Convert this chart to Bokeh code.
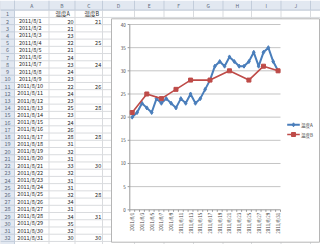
from bokeh.plotting import figure
from bokeh.models import Range1d
from bokeh.core.properties import value
from bokeh.embed import file_html
from bokeh.resources import INLINE

# ---------------- data ----------------
dates = ["2011/8/1", "2011/8/2", "2011/8/3", "2011/8/4", "2011/8/5", "2011/8/6",
         "2011/8/7", "2011/8/8", "2011/8/9", "2011/8/10", "2011/8/11", "2011/8/12",
         "2011/8/13", "2011/8/14", "2011/8/15", "2011/8/16", "2011/8/17", "2011/8/18",
         "2011/8/19", "2011/8/20", "2011/8/21", "2011/8/22", "2011/8/23", "2011/8/24",
         "2011/8/25", "2011/8/26", "2011/8/27", "2011/8/28", "2011/8/29", "2011/8/30",
         "2011/8/31"]
temp_a = [20, 21, 23, 22, 21, 24, 23, 24, 23, 22, 24, 23, 25, 23, 24, 26,
          28, 31, 32, 31, 33, 32, 31, 31, 32, 34, 31, 34, 35, 32, 30]
temp_b = [21, None, None, 25, None, None, 24, None, None, 26, None, None, 28, None, None, None,
          28, None, None, None, 30, None, None, None, 28, None, None, 31, None, None, 30]
series_names = ["温度A", "温度B"]
y_ticks = [0, 5, 10, 15, 20, 25, 30, 35, 40]
col_letters = ["A", "B", "C", "D", "E", "F", "G", "H", "I", "J"]

# ---------------- geometry ----------------
W, H = 320, 244
FONT = value("Noto Sans CJK JP")
col_edges = [0, 14, 48.5, 74.5, 102, 134, 163.5, 193, 222.5, 251, 280.5, 310, 340]
head_h = 9.5
row_top0 = 9.7
row_h = 7.226
n_rows = 33

def Y(py):
    return H - py

# chart plot area in page pixels
pa_left, pa_right = 129.3, 280.0
py_zero, py_top = 209.3, 24.0
n_cat = len(dates)
cw = (pa_right - pa_left) / n_cat
x_start = 0.5 - pa_left / cw
x_end = 0.5 + (W - pa_left) / cw
k = (Y(py_top) - Y(py_zero)) / 40.0
y_start = -Y(py_zero) / k
y_end = (H - Y(py_zero)) / k

p = figure(width=W, height=H, x_range=Range1d(0, W), y_range=Range1d(0, H),
           output_backend="svg", toolbar_location=None,
           x_axis_location=None, y_axis_location=None, min_border=0)
p.outline_line_color = None
p.grid.visible = False
p.background_fill_color = "white"
p.border_fill_color = "white"
p.extra_x_ranges = {"cx": Range1d(x_start, x_end)}
p.extra_y_ranges = {"cy": Range1d(y_start, y_end)}

# ---------------- spreadsheet ----------------
grid_col = "#d9dbde"
head_bg = "#e2e8f1"
head_line = "#c3cddb"
head_txt = "#5e6a7d"
cell_txt = "#262626"

row_edges = [row_top0 + i * row_h for i in range(n_rows + 1)]
p.segment(x0=[0] * len(row_edges), x1=[W] * len(row_edges),
          y0=[Y(r) for r in row_edges], y1=[Y(r) for r in row_edges],
          line_color=grid_col, line_width=1)
p.segment(x0=col_edges, x1=col_edges, y0=[Y(head_h)] * len(col_edges),
          y1=[0] * len(col_edges), line_color=grid_col, line_width=1)
p.quad(left=0, right=W, top=Y(0), bottom=Y(head_h), fill_color=head_bg, line_color=None)
p.quad(left=0, right=col_edges[1], top=Y(head_h), bottom=0, fill_color=head_bg, line_color=None)
p.segment(x0=col_edges, x1=col_edges, y0=[Y(0)] * len(col_edges),
          y1=[Y(head_h)] * len(col_edges), line_color=head_line, line_width=1)
p.segment(x0=[0], x1=[W], y0=[Y(head_h)], y1=[Y(head_h)], line_color=head_line)
p.segment(x0=[0] * len(row_edges), x1=[col_edges[1]] * len(row_edges),
          y0=[Y(r) for r in row_edges], y1=[Y(r) for r in row_edges],
          line_color=head_line, line_width=1)
p.segment(x0=[col_edges[1]], x1=[col_edges[1]], y0=[Y(0)], y1=[0], line_color=head_line)
col_cx = [(col_edges[i + 1] + col_edges[i + 2]) / 2 for i in range(len(col_letters))]
p.text(x=col_cx, y=[Y(head_h / 2)] * len(col_letters), text=col_letters,
       text_font=FONT, text_font_size="5px", text_color=head_txt,
       text_align="center", text_baseline="middle")
row_c = [row_top0 + (i + 0.5) * row_h for i in range(32)]
p.text(x=[col_edges[1] / 2] * 32, y=[Y(c) for c in row_c],
       text=[str(i + 1) for i in range(32)], text_font=FONT, text_font_size="5.5px",
       text_color=head_txt, text_align="center", text_baseline="middle")

# cell contents
p.text(x=[55, 84], y=[Y(row_c[0])] * 2, text=series_names, text_font=FONT,
       text_font_size="5.5px", text_color=cell_txt, text_align="left", text_baseline="middle")
p.text(x=[29.7] * n_cat, y=[Y(c) for c in row_c[1:]], text=dates, text_font=FONT,
       text_font_size="5.5px", text_color=cell_txt, text_align="center", text_baseline="middle")
p.text(x=[73] * n_cat, y=[Y(c) for c in row_c[1:]], text=[str(v) for v in temp_a],
       text_font=FONT, text_font_size="5.5px", text_color=cell_txt,
       text_align="right", text_baseline="middle")
b_rows = [Y(row_c[i + 1]) for i, v in enumerate(temp_b) if v is not None]
p.text(x=[100.7] * len(b_rows), y=b_rows, text=[str(v) for v in temp_b if v is not None],
       text_font=FONT, text_font_size="5.5px", text_color=cell_txt,
       text_align="right", text_baseline="middle")

# ---------------- chart ----------------
p.quad(left=111, right=319, top=Y(18.3), bottom=Y(241.7), fill_color="white",
       line_color="#b5b5b5", line_width=1)

R = dict(x_range_name="cx", y_range_name="cy")
left_edge = 0.5
right_edge = n_cat + 0.5
gl = [t for t in y_ticks if t > 0]
p.segment(x0=[left_edge] * len(gl), x1=[right_edge] * len(gl), y0=gl, y1=gl,
          line_color="#c4c4c4", line_width=1, **R)
p.segment(x0=[left_edge], x1=[left_edge], y0=[0], y1=[40], line_color="#9a9a9a", **R)
p.segment(x0=[left_edge], x1=[right_edge], y0=[0], y1=[0], line_color="#9a9a9a", **R)
tick_x = [i + 0.5 for i in range(0, n_cat + 1)]
p.segment(x0=tick_x, x1=tick_x, y0=[0] * len(tick_x), y1=[-2.0 / k] * len(tick_x),
          line_color="#9a9a9a", **R)
p.segment(x0=[left_edge] * len(y_ticks), x1=[left_edge - 0.45] * len(y_ticks),
          y0=y_ticks, y1=y_ticks, line_color="#9a9a9a", **R)
p.text(x=[left_edge] * len(y_ticks), y=y_ticks, text=[str(t) for t in y_ticks],
       x_offset=-4, text_font=FONT, text_font_size="4.5px", text_color="#404040",
       text_align="right", text_baseline="middle", **R)
xi = list(range(1, n_cat + 1))
p.text(x=xi[::2], y=[0] * len(xi[::2]), text=dates[::2], angle=1.5708, y_offset=3,
       text_font=FONT, text_font_size="4.5px", text_color="#404040",
       text_align="right", text_baseline="middle", **R)

blue = "#4a7ebb"
red = "#be4b48"
p.line(xi, temp_a, line_color=blue, line_width=2, **R)
p.scatter(xi, temp_a, marker="diamond", size=4, fill_color=blue, line_color=blue, **R)
bx = [xi[i] for i, v in enumerate(temp_b) if v is not None]
by = [v for v in temp_b if v is not None]
p.line(bx, by, line_color=red, line_width=1.6, **R)
p.scatter(bx, by, marker="square", size=4, fill_color=red, line_color=red, **R)

# legend (page pixels)
leg_y = [124.3, 134.0]
p.segment(x0=[286.7] * 2, x1=[299.3] * 2, y0=[Y(v) for v in leg_y], y1=[Y(v) for v in leg_y],
          line_color=[blue, red], line_width=[2, 1.6])
p.scatter(x=[293] * 2, y=[Y(v) for v in leg_y], marker=["diamond", "square"], size=4,
          fill_color=[blue, red], line_color=[blue, red])
p.text(x=[300.5] * 2, y=[Y(v) for v in leg_y], text=series_names, text_font=FONT,
       text_font_size="4.5px", text_color="#404040", text_align="left", text_baseline="middle")

open("out.html", "w").write(file_html(p, INLINE))
